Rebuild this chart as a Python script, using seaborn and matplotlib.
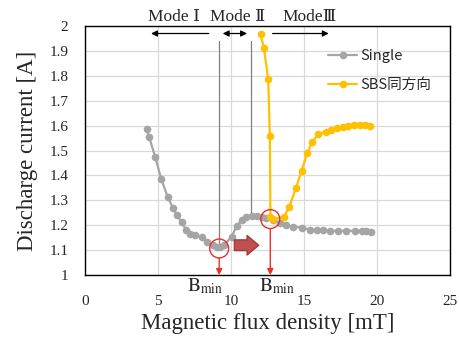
import pandas as pd
import seaborn as sns
import matplotlib.pyplot as plt
from matplotlib.patches import Ellipse

# data
single_b = [4.22, 4.41, 4.82, 5.23, 5.68, 6.05, 6.28, 6.62, 6.92, 7.19, 7.53, 7.99, 8.33, 8.75,
            9.02, 9.25, 9.52, 10.05, 10.39, 10.73, 11.07, 11.42, 11.76, 12.10, 12.44, 12.90,
            13.36, 13.77, 14.27, 14.84, 15.41, 15.87, 16.32, 16.78, 17.35, 17.92, 18.49,
            18.95, 19.29, 19.63]
single_i = [1.585, 1.553, 1.473, 1.386, 1.312, 1.268, 1.241, 1.214, 1.183, 1.167, 1.161, 1.154,
            1.134, 1.120, 1.114, 1.111, 1.120, 1.154, 1.197, 1.221, 1.234, 1.237, 1.237, 1.232,
            1.228, 1.220, 1.210, 1.201, 1.194, 1.191, 1.183, 1.181, 1.181, 1.178, 1.178, 1.178,
            1.178, 1.178, 1.178, 1.174]
sbs_b = [12.03, 12.26, 12.56, 12.67, 12.71, 12.90, 13.63, 13.99, 14.45, 14.84, 15.23, 15.57,
         15.98, 16.51, 16.83, 17.24, 17.65, 18.04, 18.42, 18.84, 19.18, 19.52]
sbs_i = [1.967, 1.913, 1.786, 1.558, 1.234, 1.224, 1.234, 1.272, 1.348, 1.419, 1.489, 1.535,
         1.565, 1.576, 1.582, 1.589, 1.596, 1.598, 1.601, 1.601, 1.601, 1.598]

mode_labels = ["Mode \u2160", "Mode \u2161", "Mode\u2162"]
mode_x = [6.1, 10.5, 15.4]
bmin_x = [9.2, 12.7]
bmin_i = [1.107, 1.225]

serif = ["Liberation Serif", "DejaVu Serif", "Noto Sans CJK JP"]
sns.set_style("white")
plt.rcParams["font.family"] = serif
plt.rcParams["mathtext.fontset"] = "stix"

fig = plt.figure(figsize=(4.59, 3.38), dpi=100)
ax = fig.add_axes([0.185, 0.186, 0.795, 0.737])

df1 = pd.DataFrame({"B": single_b, "I": single_i})
df2 = pd.DataFrame({"B": sbs_b, "I": sbs_i})
sns.lineplot(data=df1, x="B", y="I", ax=ax, color="#a5a5a5", marker="o", markersize=5.5,
             markeredgewidth=0, lw=1.6, sort=False, label="Single")
sns.lineplot(data=df2, x="B", y="I", ax=ax, color="#ffc000", marker="o", markersize=5.5,
             markeredgewidth=0, lw=1.6, sort=False, label="SBS同方向", zorder=3)

ax.set_xlim(0, 25)
ax.set_ylim(1, 2)
ax.set_xticks(range(0, 26, 5))
ax.set_yticks([1 + 0.1 * k for k in range(11)])
ax.set_yticklabels(["1", "1.1", "1.2", "1.3", "1.4", "1.5", "1.6", "1.7", "1.8", "1.9", "2"])
ax.grid(True, color="#d9d9d9", lw=0.9)
ax.set_axisbelow(True)
for s in ax.spines.values():
    s.set_color("black")
    s.set_linewidth(1.0)
ax.tick_params(length=0, labelsize=11)
ax.tick_params(axis="x", pad=14)
ax.tick_params(axis="y", pad=12)
ax.set_xlabel("Magnetic flux density [mT]", fontsize=16.5, labelpad=4)
ax.set_ylabel("Discharge current [A]", fontsize=16.5)
ax.yaxis.set_label_coords(-0.128, 0.5)

# mode boundaries
ax.plot([9.2, 9.2], [1.94, 1.13], color="#808080", lw=0.9, zorder=1)
ax.plot([11.35, 11.35], [1.94, 1.24], color="#808080", lw=0.9, zorder=1)

# mode arrows
arr = dict(arrowstyle="-|>", color="black", lw=0.9, mutation_scale=9)
ax.annotate("", xy=(4.34, 1.97), xytext=(8.68, 1.97), arrowprops=arr)
ax.annotate("", xy=(12.67, 1.97), xytext=(16.9, 1.97), arrowprops=dict(arrowstyle="<|-", color="black", lw=0.9, mutation_scale=9))
ax.annotate("", xy=(9.25, 1.97), xytext=(11.3, 1.97), arrowprops=dict(arrowstyle="<|-|>", color="black", lw=0.9, mutation_scale=9))
for lab, xm in zip(mode_labels, mode_x):
    ax.text(xm, 2.006, lab, ha="center", va="bottom", fontsize=12.5, family=serif)

# red circles and arrows
for xb, yb in zip(bmin_x, bmin_i):
    c = Ellipse((xb, yb), 1.3, 0.076, fill=False, ec="#e8302c", lw=1.0, zorder=5)
    ax.add_patch(c)
    ax.annotate("", xy=(xb, 1.0), xytext=(xb, yb - 0.038),
                arrowprops=dict(arrowstyle="-|>", color="#e8302c", lw=1.0, mutation_scale=9,
                                shrinkA=0, shrinkB=0), zorder=5)
ax.annotate("", xy=(12.1, 1.12), xytext=(10.05, 1.12),
            arrowprops=dict(arrowstyle="simple,head_length=0.6,head_width=1.0,tail_width=0.55",
                            color="#c0504d", ec="#a03c3a", mutation_scale=14))

ax.text(8.25, 0.995, "$\\mathrm{B_{min}}$", ha="center", va="top", fontsize=14)
ax.text(13.2, 0.995, "$\\mathrm{B_{min}}$", ha="center", va="top", fontsize=14)

leg = ax.legend(loc="upper left", bbox_to_anchor=(0.63, 0.96), frameon=False,
                prop={"family": ["Noto Sans CJK JP", "DejaVu Sans"], "size": 10.5},
                handlelength=2.0, handletextpad=0.2, labelspacing=1.0)

fig.savefig("out.png", dpi=100)
